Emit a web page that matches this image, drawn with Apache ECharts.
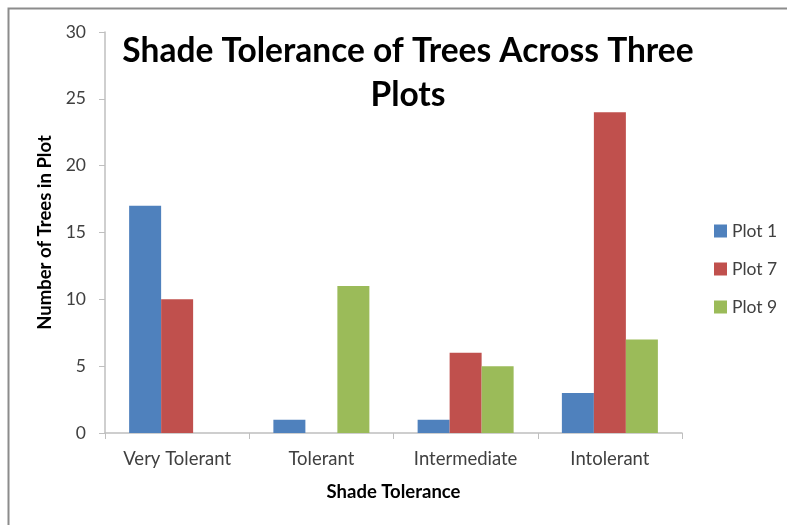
<!DOCTYPE html>
<html>
<head>
<meta charset="utf-8">
<script src="https://cdn.jsdelivr.net/npm/echarts@6/dist/echarts.min.js"></script>
<style>
  html, body { margin: 0; padding: 0; background: #fff; }
  #chart { width: 787px; height: 525px; }
</style>
</head>
<body>
<div id="chart"></div>
<script>
// Shade tolerance classes on the x axis
const categories = ['Very Tolerant', 'Tolerant', 'Intermediate', 'Intolerant'];
// Tree counts per plot
const plot1 = [17, 1, 1, 3];
const plot7 = [10, 0, 6, 24];
const plot9 = [0, 11, 5, 7];
const seriesNames = ['Plot 1', 'Plot 7', 'Plot 9'];
const yTicks = { min: 0, max: 30, interval: 5 };

const FONT = 'Lato, "Open Sans", sans-serif';
const colors = ['#4F81BD', '#C0504D', '#9BBB59'];

const chart = echarts.init(document.getElementById('chart'), null, { renderer: 'canvas' });

const option = {
  animation: false,
  color: colors,
  title: {
    text: 'Shade Tolerance of Trees Across Three\nPlots',
    left: 403,
    top: 24,
    textAlign: 'center',
    textStyle: {
      fontFamily: FONT,
      fontWeight: 'bold',
      fontSize: 33.5,
      lineHeight: 44,
      color: '#000'
    }
  },
  legend: {
    orient: 'vertical',
    left: 709,
    top: 217,
    itemWidth: 13,
    itemHeight: 13,
    itemGap: 20,
    icon: 'rect',
    textStyle: { fontFamily: FONT, fontSize: 17.5, color: '#404040' },
    data: seriesNames
  },
  grid: { left: 105, right: 105, top: 32, bottom: 92, containLabel: false },
  xAxis: {
    type: 'category',
    data: categories,
    name: 'Shade Tolerance',
    nameLocation: 'middle',
    nameGap: 50,
    nameTextStyle: { fontFamily: FONT, fontWeight: 'bold', fontSize: 18.5, color: '#000' },
    axisLine: { lineStyle: { color: '#BFBFBF', width: 1.5 } },
    axisTick: { show: true, length: 6, lineStyle: { color: '#BFBFBF' } },
    axisLabel: { fontFamily: FONT, fontSize: 18.5, color: '#404040', margin: 17, interval: 0 }
  },
  yAxis: {
    type: 'value',
    min: yTicks.min,
    max: yTicks.max,
    interval: yTicks.interval,
    name: 'Number of Trees in Plot',
    nameLocation: 'middle',
    nameGap: 46,
    nameRotate: 90,
    nameTextStyle: { fontFamily: FONT, fontWeight: 'bold', fontSize: 18.5, color: '#000' },
    axisLine: { show: true, lineStyle: { color: '#BFBFBF', width: 1.5 } },
    axisTick: { show: true, length: 6, lineStyle: { color: '#BFBFBF' } },
    splitLine: { show: false },
    axisLabel: { fontFamily: FONT, fontSize: 17.5, color: '#404040', margin: 19 }
  },
  graphic: [
    {
      type: 'rect',
      shape: { x: 8.5, y: 8.5, width: 1000, height: 1000 },
      style: { fill: 'none', stroke: '#8C8C8C', lineWidth: 2 },
      silent: true,
      z: -1
    }
  ],
  series: [
    { name: seriesNames[0], type: 'bar', data: plot1, barWidth: 32, barGap: '0%' },
    { name: seriesNames[1], type: 'bar', data: plot7, barWidth: 32, barGap: '0%' },
    { name: seriesNames[2], type: 'bar', data: plot9, barWidth: 32, barGap: '0%' }
  ]
};

chart.setOption(option);
</script>
</body>
</html>
